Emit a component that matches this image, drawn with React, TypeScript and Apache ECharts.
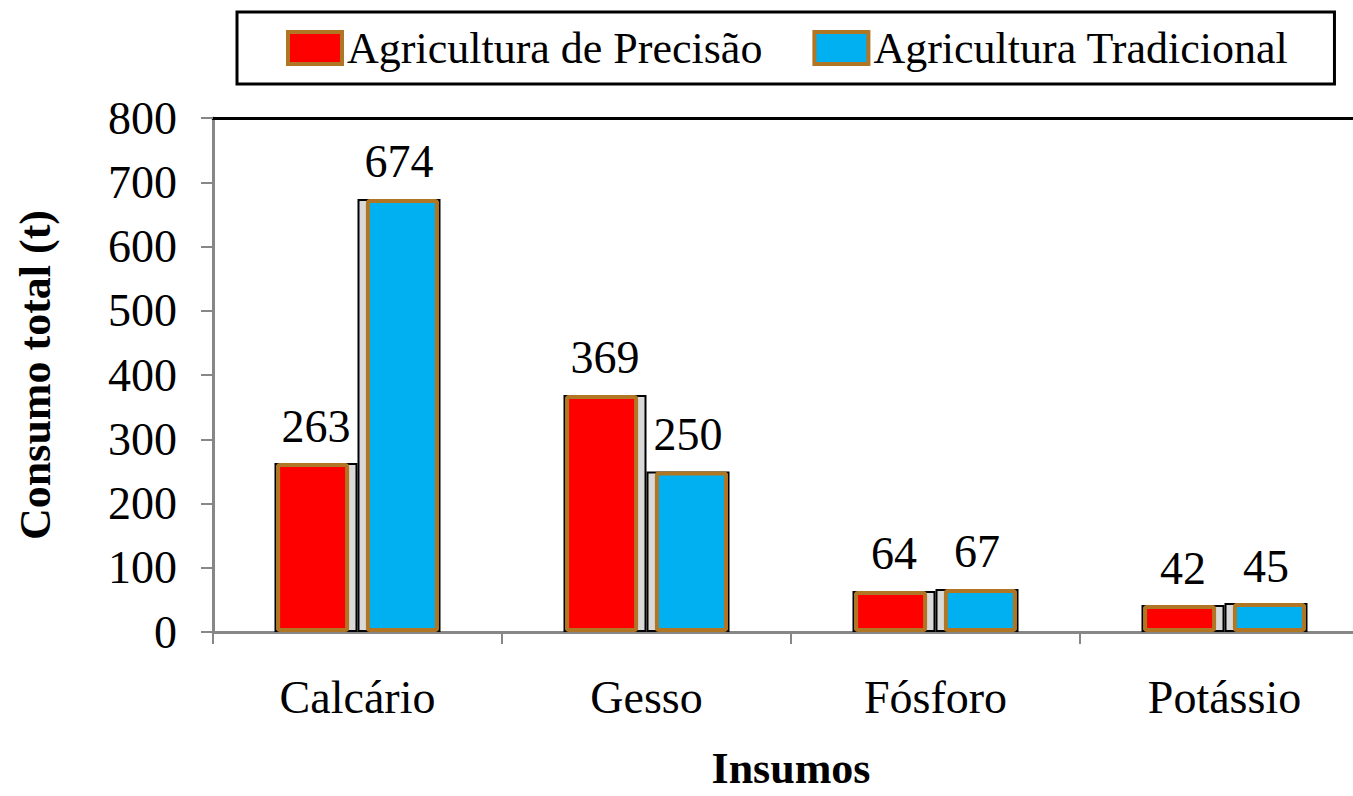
import React, { useEffect, useRef } from "react";
import * as echarts from "echarts";

const categories = ["Calcário", "Gesso", "Fósforo", "Potássio"];
const precisao = [263, 369, 64, 42];
const tradicional = [674, 250, 67, 45];
const yTicks = [0, 100, 200, 300, 400, 500, 600, 700, 800];
const seriesNames = ["Agricultura de Precisão", "Agricultura Tradicional"];

const FONT = "'Liberation Serif', 'Times New Roman', serif";
const BROWN = "#B07624";
const AXIS_GREY = "#878787";

export default function App() {
  const ref = useRef<HTMLDivElement>(null);
  useEffect(() => {
    document.body.style.margin = "0";
    const chart = echarts.init(ref.current!, null, { renderer: "svg" });
    const shadowItem = {
      color: "#D9D9D9",
      borderColor: "#000",
      borderWidth: 2,
    };
    const label = {
      show: true,
      position: "top" as const,
      distance: 14,
      fontFamily: FONT,
      fontSize: 46,
      color: "#000",
    };
    chart.setOption({
      animation: false,
      backgroundColor: "#fff",
      textStyle: { fontFamily: FONT },
      legend: {
        data: seriesNames,
        orient: "horizontal",
        left: 237,
        top: 12,
        width: 1008,
        padding: [14, 46, 14, 49],
        borderColor: "#000",
        borderWidth: 3,
        itemWidth: 54,
        itemHeight: 32,
        itemGap: 50,
        itemTextGap: 6,
        icon: "rect",
        itemStyle: { borderColor: BROWN, borderWidth: 4 },
        textStyle: { fontFamily: FONT, fontSize: 44, color: "#000" },
      },
      grid: { left: 213, top: 118, width: 1156, height: 514, outerBoundsMode: "none", containLabel: false },
      xAxis: [
        {
          type: "category",
          data: categories,
          position: "bottom",
          axisLine: { lineStyle: { color: AXIS_GREY, width: 3 } },
          axisTick: { show: true, length: 12, lineStyle: { color: AXIS_GREY, width: 2 } },
          axisLabel: { margin: 42, fontFamily: FONT, fontSize: 46, color: "#000" },
          name: "Insumos",
          nameLocation: "middle",
          nameGap: 118,
          nameTextStyle: { fontFamily: FONT, fontSize: 44, lineHeight: 36, fontWeight: "bold", color: "#000" },
        },
        {
          type: "category",
          data: categories,
          position: "top",
          axisLine: { show: true, lineStyle: { color: "#000", width: 3 } },
          axisTick: { show: false },
          axisLabel: { show: false },
        },
      ],
      yAxis: {
        type: "value",
        min: 0,
        max: yTicks[yTicks.length - 1],
        interval: 100,
        axisLine: { show: true, lineStyle: { color: AXIS_GREY, width: 3 } },
        axisTick: { show: true, length: 12, lineStyle: { color: AXIS_GREY, width: 2 } },
        splitLine: { show: false },
        axisLabel: { margin: 36, fontFamily: FONT, fontSize: 46, color: "#000" },
        name: "Consumo total (t)",
        nameLocation: "middle",
        nameGap: 156,
        nameTextStyle: { fontFamily: FONT, fontSize: 44, fontWeight: "bold", color: "#000" },
      },
      series: [
        {
          name: "sombra1",
          type: "bar",
          xAxisIndex: 1,
          data: precisao,
          barWidth: 83,
          barGap: "0%",
          z: 1,
          itemStyle: shadowItem,
          label,
        },
        {
          name: "sombra2",
          type: "bar",
          xAxisIndex: 1,
          data: tradicional,
          barWidth: 83,
          barGap: "0%",
          z: 1,
          itemStyle: shadowItem,
          label,
        },
        {
          name: seriesNames[0],
          type: "bar",
          xAxisIndex: 0,
          data: precisao,
          barWidth: 73,
          barGap: "23%",
          z: 3,
          itemStyle: { color: "#FF0000", borderColor: BROWN, borderWidth: 4, borderRadius: 2 },
        },
        {
          name: seriesNames[1],
          type: "bar",
          xAxisIndex: 0,
          data: tradicional,
          barWidth: 73,
          barGap: "23%",
          z: 3,
          itemStyle: { color: "#00B0F0", borderColor: BROWN, borderWidth: 4, borderRadius: 2 },
        },
      ],
    });
    return () => chart.dispose();
  }, []);
  return <div ref={ref} style={{ width: 1353, height: 796, overflow: "hidden" }} />;
}
